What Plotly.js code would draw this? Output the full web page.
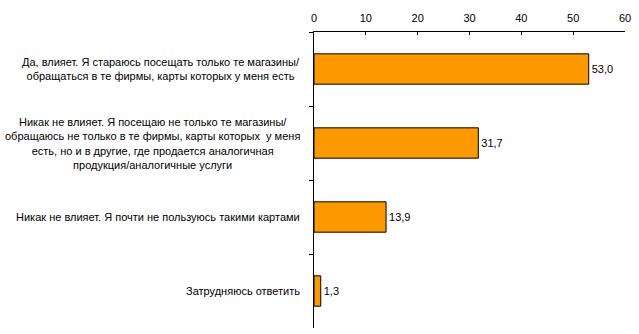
<!DOCTYPE html>
<html><head><meta charset="utf-8">
<script src="https://cdn.plot.ly/plotly-3.0.1.min.js"></script>
<style>html,body{margin:0;padding:0;background:#fff}</style>
</head><body>
<div id="chart" style="width:639px;height:334px"></div>
<script>
const categories = [
  "Да, влияет. Я стараюсь посещать только те магазины/<br>обращаться в те фирмы, карты которых у меня есть",
  "Никак не влияет. Я посещаю не только те магазины/<br>обращаюсь не только в те фирмы, карты которых  у меня<br>есть, но и в другие, где продается аналогичная<br>продукция/аналогичные услуги",
  "Никак не влияет. Я почти не пользуюсь такими картами",
  "Затрудняюсь ответить"
];
const values = [53.0, 31.7, 13.9, 1.3];
const valueLabels = ["53,0", "31,7", "13,9", "1,3"];
const xTicks = [0, 10, 20, 30, 40, 50, 60];

const font = {family: "Liberation Sans, Arial, sans-serif", size: 11, color: "#000"};
const ids = categories.map((c, i) => "c" + i);

const trace = {
  type: "bar", orientation: "h",
  y: ids, x: values,
  text: valueLabels, textposition: "outside", cliponaxis: false,
  textfont: font,
  marker: {color: "#FF9900", line: {color: "#000", width: 1}},
  width: 0.41, hoverinfo: "none"
};

const annotations = categories.map((c, i) => ({
  xref: "paper", yref: "y", x: -0.038, y: ids[i],
  xanchor: "right", yanchor: "middle", align: "center",
  text: c, showarrow: false, font: font
}));

const layout = {
  width: 639, height: 334,
  margin: {l: 314, r: 14, t: 32, b: 6},
  paper_bgcolor: "#fff", plot_bgcolor: "#fff",
  font: font, showlegend: false,
  xaxis: {
    side: "top", range: [0, 60], tickvals: xTicks, ticktext: xTicks.map(String),
    showgrid: false, zeroline: false, showline: true, linecolor: "#000", linewidth: 1,
    ticks: "inside", ticklen: 3, tickcolor: "#000", tickfont: font, fixedrange: true,
    ticklabelstandoff: 5
  },
  yaxis: {
    type: "category", autorange: "reversed", showticklabels: false,
    tickson: "boundaries", ticks: "outside", ticklen: 4, tickcolor: "#000",
    showgrid: false, zeroline: false, showline: true, linecolor: "#000", linewidth: 1,
    fixedrange: true
  },
  annotations: annotations
};

Plotly.newPlot("chart", [trace], layout, {displayModeBar: false, staticPlot: true});
</script>
</body></html>
